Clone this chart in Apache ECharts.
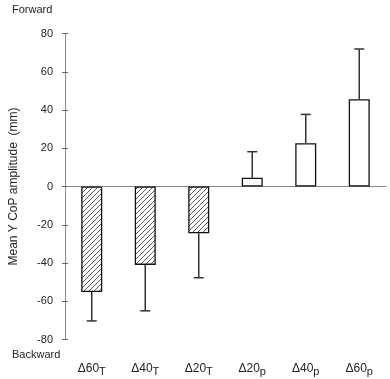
<!DOCTYPE html>
<html>
<head>
<meta charset="utf-8">
<script src="https://cdn.jsdelivr.net/npm/echarts@6/dist/echarts.min.js"></script>
<style>
html, body { margin: 0; padding: 0; background: #fff; }
#main { width: 390px; height: 379px; }
</style>
</head>
<body>
<div id="main"></div>
<script>
// conditions (number + subscript letter)
var categories = ['Δ60', 'Δ40', 'Δ20', 'Δ20', 'Δ40', 'Δ60'];
var subscripts = ['T', 'T', 'T', 'p', 'p', 'p'];
// mean Y CoP amplitude (mm) and the SD drawn as one-sided error bars
var means = [-55.2, -41, -24.5, 4.6, 22.6, 45.6];
var sds = [15.1, 24, 23.2, 13.6, 15.1, 26.3];
var yTicks = [-80, -60, -40, -20, 0, 20, 40, 60, 80];

var chart = echarts.init(document.getElementById('main'));

// hatch pattern for the negative bars
var tile = document.createElement('canvas');
tile.width = 5; tile.height = 5;
var ctx = tile.getContext('2d');
ctx.fillStyle = '#fff';
ctx.fillRect(0, 0, 5, 5);
ctx.strokeStyle = '#333';
ctx.lineWidth = 0.8;
ctx.beginPath();
ctx.moveTo(-1, 6); ctx.lineTo(6, -1);
ctx.moveTo(-1, 1); ctx.lineTo(1, -1);
ctx.moveTo(4, 6); ctx.lineTo(6, 4);
ctx.stroke();

var barData = means.map(function (m) {
    return {
        value: m,
        itemStyle: { color: m < 0 ? { image: tile, repeat: 'repeat' } : '#fff' }
    };
});
var errData = means.map(function (m, i) {
    return [i, m, m < 0 ? m - sds[i] : m + sds[i]];
});

var option = {
    backgroundColor: '#fff',
    animation: false,
    grid: { left: 60, right: 4, top: 33.5, bottom: 39.5 },
    xAxis: [{
        type: 'category',
        data: categories,
        axisLine: { show: false, onZero: false },
        axisTick: { show: false },
        axisLabel: {
            interval: 0,
            margin: 21,
            formatter: function (v, i) {
                return '{a|' + v + '}{s|' + subscripts[i] + '}';
            },
            rich: {
                a: { fontFamily: 'Liberation Sans', fontSize: 12, color: '#222' },
                s: { fontFamily: 'Liberation Sans', fontSize: 11, color: '#222', padding: [6, 0, 0, 0] }
            }
        }
    }, {
        type: 'category',
        data: categories,
        position: 'bottom',
        axisLine: { show: true, onZero: true, lineStyle: { color: '#888', width: 1 } },
        axisTick: { show: false },
        axisLabel: { show: false }
    }],
    yAxis: [{
        type: 'value',
        min: -80, max: 80, interval: 20,
        name: 'Mean Y CoP amplitude  (mm)',
        nameLocation: 'middle',
        nameGap: 45,
        nameTextStyle: { fontFamily: 'Liberation Sans', fontSize: 12, color: '#222' },
        axisLine: { show: true, lineStyle: { color: '#888' } },
        axisTick: { show: true, length: 3, lineStyle: { color: '#666' } },
        axisLabel: { margin: 12, fontFamily: 'Liberation Sans', fontSize: 11, color: '#222',
            customValues: yTicks },
        splitLine: { show: false }
    }, {
        type: 'value',
        min: -80, max: 80, interval: 20,
        position: 'left',
        axisLine: { show: false },
        axisTick: { show: true, inside: true, length: 3, lineStyle: { color: '#666' } },
        axisLabel: { show: false },
        splitLine: { show: false }
    }],
    series: [{
        type: 'bar',
        data: barData,
        barWidth: 21,
        itemStyle: { borderColor: '#111', borderWidth: 1.3 },
        z: 3
    }, {
        type: 'custom',
        data: errData,
        z: 4,
        renderItem: function (params, api) {
            var start = api.coord([api.value(0), api.value(1)]);
            var end = api.coord([api.value(0), api.value(2)]);
            var w = 5;
            return {
                type: 'group',
                children: [{
                    type: 'line',
                    shape: { x1: start[0], y1: start[1], x2: end[0], y2: end[1] },
                    style: { stroke: '#333', lineWidth: 1.5 }
                }, {
                    type: 'line',
                    shape: { x1: end[0] - w, y1: end[1], x2: end[0] + w, y2: end[1] },
                    style: { stroke: '#333', lineWidth: 1.5 }
                }]
            };
        }
    }],
    graphic: [{
        type: 'text', left: 12, top: 4,
        style: { text: 'Forward', fontFamily: 'Liberation Sans', fontSize: 11, fill: '#222' }
    }, {
        type: 'text', left: 12, top: 349,
        style: { text: 'Backward', fontFamily: 'Liberation Sans', fontSize: 11, fill: '#222' }
    }]
};
chart.setOption(option);
</script>
</body>
</html>
